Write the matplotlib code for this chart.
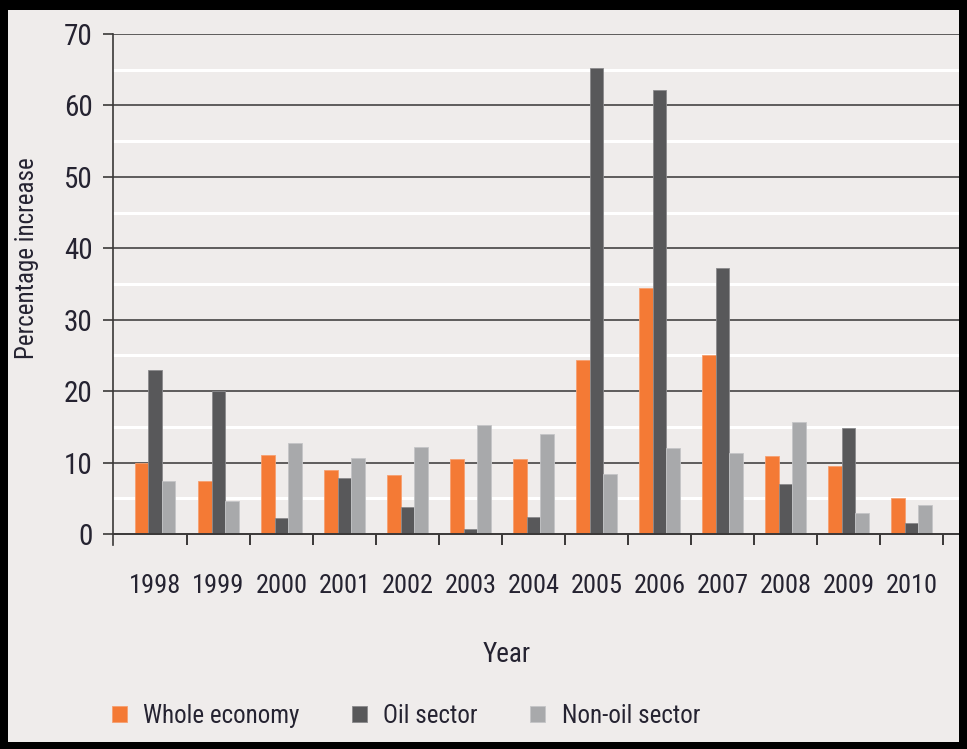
import matplotlib
matplotlib.use('Agg')
import matplotlib.pyplot as plt
from matplotlib.patches import Rectangle
import numpy as np

years = ['1998', '1999', '2000', '2001', '2002', '2003', '2004',
         '2005', '2006', '2007', '2008', '2009', '2010']
whole_economy = [10.0, 7.4, 11.0, 9.0, 8.2, 10.5, 10.5, 24.3, 34.5, 25.0, 10.9, 9.5, 5.0]
oil_sector = [23.0, 20.0, 2.2, 7.9, 3.8, 0.7, 2.4, 65.3, 62.1, 37.3, 7.0, 14.8, 1.5]
non_oil_sector = [7.4, 4.6, 12.7, 10.6, 12.2, 15.2, 14.0, 8.4, 12.0, 11.4, 15.7, 3.0, 4.1]

bg = '#efeceb'
text_col = '#252331'
orange = '#f47a35'
dark = '#58585a'
grey = '#a8a9ab'

plt.rcParams['font.family'] = ['Roboto Condensed', 'Roboto', 'DejaVu Sans']
plt.rcParams['font.stretch'] = 'condensed'

W, H = 967, 749
fig = plt.figure(figsize=(W / 100, H / 100), dpi=100, facecolor=bg)
ax = fig.add_axes([113 / W, 1 - 545 / H, (959 - 113) / W, (545 - 34) / H])
ax.set_facecolor(bg)

x = np.arange(len(years))
w = 0.214
ax.bar(x - w, whole_economy, w, color=orange, edgecolor='#f6a070', linewidth=0.6,
       label='Whole economy', zorder=3)
ax.bar(x, oil_sector, w, color=dark, edgecolor='#8a8a8c', linewidth=0.6,
       label='Oil sector', zorder=3)
ax.bar(x + w, non_oil_sector, w, color=grey, edgecolor='#c4c5c7', linewidth=0.6,
       label='Non-oil sector', zorder=3)

ax.set_xlim(-0.67, 12.75)
ax.set_ylim(-1.55, 70)

# white half-step lines, dark lines every 10
for v in range(5, 70, 10):
    ax.axhline(v, color='white', lw=2.2, zorder=1)
for v in range(10, 71, 10):
    ax.axhline(v, color='#5e5c5c', lw=1.4, zorder=1)
ax.axhline(0, color='#3a3838', lw=1.4, zorder=4)

# group separators below the zero line
ax.vlines(x + 0.5, -1.55, 0, color='#3a3838', lw=1.4, zorder=4)

for s in ['top', 'right', 'bottom']:
    ax.spines[s].set_visible(False)
ax.spines['left'].set_color('#3a3838')
ax.spines['left'].set_linewidth(1.2)

ax.set_yticks(range(0, 71, 10))
ax.tick_params(axis='y', length=7.5, width=1.2, color='#3a3838', pad=7,
               labelsize=21, labelcolor=text_col)
ax.set_xticks(x)
ax.set_xticklabels(years)
ax.tick_params(axis='x', length=0, pad=21, labelsize=19, labelcolor=text_col)

fig.text(27 / W, 1 - 258 / H, 'Percentage increase', rotation=90,
         ha='center', va='center', fontsize=18, color=text_col)
fig.text(507 / W, 1 - 655 / H, 'Year', ha='center', va='center',
         fontsize=19.5, color=text_col)

fig.legend(loc='center left', bbox_to_anchor=(112 / W, 1 - 716 / H), ncol=3,
           frameon=False, fontsize=18, handlelength=0.6, handleheight=0.6,
           handletextpad=0.65, columnspacing=2.1, borderpad=0, borderaxespad=0,
           labelcolor=text_col)

# black frame around the figure
for rect in [(0, 0, 8 / W, 1), (1 - 8 / W, 0, 8 / W, 1),
             (0, 0, 1, 7 / H), (0, 1 - 10 / H, 1, 10 / H)]:
    fig.patches.append(Rectangle(rect[:2], rect[2], rect[3], transform=fig.transFigure,
                                 facecolor='black', edgecolor='none', zorder=10))

fig.savefig('out.png', dpi=100, facecolor=bg)
